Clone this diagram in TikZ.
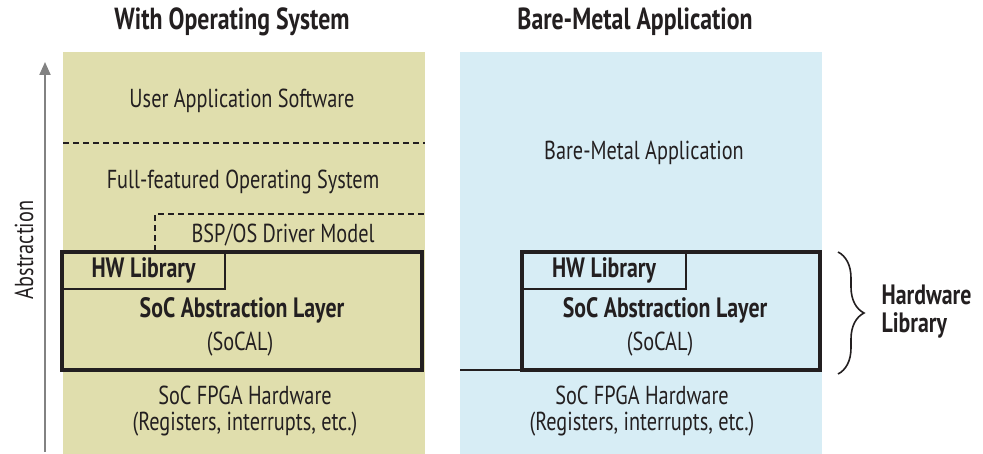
\documentclass[tikz,border=0pt]{standalone}
\usepackage{fontspec}
\setmainfont{PT Sans}[FakeStretch=0.78]
\usetikzlibrary{arrows.meta,decorations.pathreplacing}
\definecolor{oscol}{RGB}{224,222,173}
\definecolor{bmcol}{RGB}{215,237,245}
\definecolor{axisgray}{RGB}{130,130,130}
\definecolor{ink}{RGB}{35,31,32}
\begin{document}
\begin{tikzpicture}[x=1pt,y=-1pt,
  every node/.style={text=ink},
  panel/.style={draw=none,inner sep=0pt,outer sep=0pt,anchor=north west,
    minimum width=362pt,minimum height=402pt},
  layerbox/.style={draw=ink,line width=4pt,inner sep=0pt,outer sep=0pt,anchor=north west,
    minimum width=360pt,minimum height=118pt},
  hwbox/.style={draw=ink,line width=1.5pt,inner sep=0pt,outer sep=0pt,anchor=north west,
    minimum height=37pt},
  heading/.style={font=\fontsize{30.5}{34}\selectfont\bfseries},
  body/.style={font=\fontsize{26}{26}\selectfont,align=center},
  strong/.style={font=\fontsize{28}{28}\selectfont\bfseries,align=left},
  sep/.style={draw=ink,line width=1.4pt,dash pattern=on 6pt off 4pt}
]
\useasboundingbox (0,0) rectangle (983,454);

% background panels
\node[panel,fill=oscol] (ospanel) at (63,52) {};
\node[panel,fill=bmcol] (bmpanel) at (460,52) {};

% headings
\node[heading] (ostitle) at (232,22) {With Operating System};
\node[heading] (bmtitle) at (635,22) {Bare-Metal Application};

% abstraction axis
\coordinate (axlow) at (45,452);
\coordinate (axhigh) at (45,62);
\draw[axisgray,line width=2pt,-{Triangle[length=13pt,width=11pt]}] (axlow) -- (axhigh);
\node[body,rotate=90] (abstr) at (24,250) {Abstraction};

% operating system stack
\node[body] (userapp) at (242,101) {User Application Software};
\coordinate (sepL) at (63,143);
\coordinate (sepR) at (425,143);
\draw[sep] (sepL) -- (sepR);
\node[body] (fullos) at (243,182) {Full-featured Operating System};
\coordinate (bspA) at (155,251);
\coordinate (bspB) at (155,214);
\coordinate (bspC) at (425,214);
\draw[sep] (bspA) -- (bspB) -- (bspC);
\node[body] (bsp) at (283,235) {BSP/OS Driver Model};

\node[layerbox] (oslayer) at (62,252) {};
\node[hwbox,minimum width=163pt] (oshw) at (62,252) {};
\node[strong] at (oshw.center) {HW Library};
\node[strong] (ossocal) at (242,310) {SoC Abstraction Layer};
\node[body] (ossocalb) at (240,344) {(SoCAL)};
\node[body] (oshwtxt) at (245,411) {SoC FPGA Hardware\\(Registers, interrupts, etc.)};

% bare-metal stack
\node[body] (bmapp) at (644,153) {Bare-Metal Application};
\node[layerbox,minimum width=298pt] (bmlayer) at (522,252) {};
\node[hwbox,minimum width=164pt] (bmhw) at (522,252) {};
\node[strong] at (bmhw.center) {HW Library};
\node[strong] (bmsocal) at (665,310) {SoC Abstraction Layer};
\node[body] (bmsocalb) at (660,344) {(SoCAL)};
\node[body] (bmhwtxt) at (642,411) {SoC FPGA Hardware\\(Registers, interrupts, etc.)};
\coordinate (floorL) at (460,370);
\draw[ink,line width=1.5pt] (floorL) -- (bmlayer.south west);

% hardware library brace
\coordinate (brTop) at (838,252);
\coordinate (brBot) at (838,374);
\draw[ink,line width=1.6pt,decorate,decoration={brace,amplitude=26pt,aspect=0.5}] (brTop) -- (brBot);
\node[strong,anchor=west] (hwlib) at (878,312) {Hardware\\Library};
\end{tikzpicture}
\end{document}
